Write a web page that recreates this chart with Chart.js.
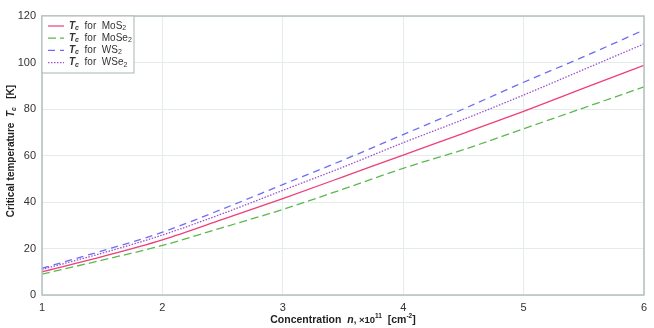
<!DOCTYPE html>
<html>
<head>
<meta charset="utf-8">
<script src="https://cdn.jsdelivr.net/npm/chart.js@4/dist/chart.umd.min.js"></script>
<style>
  html, body { margin: 0; padding: 0; background: #fff; }
</style>
</head>
<body>
<canvas id="tcChart" width="654" height="328"></canvas>
<script>
// concentration n, x10^11 cm^-2
const concentration = [1, 1.5, 2, 2.5, 3, 3.5, 4, 4.5, 5, 5.5, 6];
// critical temperature Tc, K
const tcMoS2  = [10.0, 16.5, 23.7, 32.5, 41.5, 50.8, 60.2, 69.5, 79.0, 89.0, 98.8];
const tcMoSe2 = [9.0, 15.0, 21.3, 29.0, 36.8, 45.5, 54.5, 62.5, 71.5, 80.5, 89.5];
const tcWS2   = [11.5, 19.0, 27.0, 37.0, 47.5, 58.0, 69.0, 80.0, 91.5, 102.5, 114.0];
const tcWSe2  = [11.0, 18.0, 25.8, 35.0, 45.0, 55.0, 65.5, 75.5, 86.0, 97.0, 108.0];
const materials = [['MoS', '2'], ['MoSe', '2'], ['WS', '2'], ['WSe', '2']];
const xTicks = [1, 2, 3, 4, 5, 6];
const yTicks = [0, 20, 40, 60, 80, 100, 120];

const FONT = '"Liberation Sans", Arial, sans-serif';
const colors = ['#ee3f78', '#5cb84e', '#6f6cf5', '#9a52d0'];
const dashes = [[], [8, 4], [7, 5], [1.5, 1.5]];

const toPoints = vals => vals.map((v, i) => ({ x: concentration[i], y: v }));

// draws a row of text pieces with own font / baseline shift
function drawRuns(ctx, runs, x, y, align) {
  let total = 0;
  runs.forEach(r => { ctx.font = r.font; total += ctx.measureText(r.text).width; });
  let cx = align === 'center' ? x - total / 2 : x;
  ctx.textAlign = 'left';
  ctx.textBaseline = 'middle';
  runs.forEach(r => {
    ctx.font = r.font;
    ctx.fillText(r.text, cx, y + (r.dy || 0));
    cx += ctx.measureText(r.text).width;
  });
}

const decorations = {
  id: 'decorations',
  afterDraw(chart) {
    const ctx = chart.ctx;
    const a = chart.chartArea;
    ctx.save();

    // plot frame
    ctx.strokeStyle = '#b5c1c1';
    ctx.lineWidth = 1.5;
    ctx.strokeRect(a.left, a.top, a.right - a.left, a.bottom - a.top);

    // legend box
    const lx = a.left, ly = a.top, lw = 92, lh = 57;
    ctx.fillStyle = '#fff';
    ctx.fillRect(lx, ly, lw, lh);
    ctx.strokeStyle = '#b5c1c1';
    ctx.lineWidth = 1.2;
    ctx.strokeRect(lx, ly, lw, lh);
    materials.forEach((m, i) => {
      const yy = ly + 10 + i * 12.2;
      ctx.strokeStyle = colors[i];
      ctx.lineWidth = 1.2;
      ctx.setLineDash(dashes[i]);
      ctx.beginPath();
      ctx.moveTo(lx + 6, yy);
      ctx.lineTo(lx + 22, yy);
      ctx.stroke();
      ctx.setLineDash([]);
      ctx.fillStyle = '#333';
      drawRuns(ctx, [
        { text: 'T', font: 'italic bold 10px ' + FONT },
        { text: 'c', font: 'italic bold 7px ' + FONT, dy: 2 },
        { text: '  for  ', font: '10px ' + FONT },
        { text: m[0], font: '10px ' + FONT },
        { text: m[1], font: '7px ' + FONT, dy: 2 }
      ], lx + 27, yy, 'left');
    });

    ctx.fillStyle = '#222';
    // x axis title
    drawRuns(ctx, [
      { text: 'Concentration  ', font: 'bold 10.5px ' + FONT },
      { text: 'n', font: 'italic bold 10.5px ' + FONT },
      { text: ', \u00d710', font: 'bold 9.5px ' + FONT },
      { text: '11', font: 'bold 6.5px ' + FONT, dy: -4 },
      { text: '  [cm', font: 'bold 10.5px ' + FONT },
      { text: '-2', font: 'bold 6.5px ' + FONT, dy: -4 },
      { text: ']', font: 'bold 10.5px ' + FONT }
    ], (a.left + a.right) / 2, 320, 'center');

    // y axis title
    ctx.translate(11, 151);
    ctx.rotate(-Math.PI / 2);
    drawRuns(ctx, [
      { text: 'Critical temperature  ', font: 'bold 10px ' + FONT },
      { text: 'T', font: 'italic bold 10px ' + FONT },
      { text: 'c', font: 'italic bold 7px ' + FONT, dy: 3 },
      { text: '   [K]', font: 'bold 10px ' + FONT }
    ], 0, 0, 'center');
    ctx.restore();
  }
};

const datasets = [tcMoS2, tcMoSe2, tcWS2, tcWSe2].map((vals, i) => ({
  label: 'Tc for ' + materials[i].join(''),
  data: toPoints(vals),
  borderColor: colors[i],
  borderWidth: 1.3,
  borderDash: dashes[i],
  pointRadius: 0,
  fill: false,
  cubicInterpolationMode: 'monotone'
}));

new Chart(document.getElementById('tcChart').getContext('2d'), {
  type: 'line',
  data: { datasets: datasets },
  options: {
    responsive: false,
    animation: false,
    layout: { padding: { left: 0, right: 10, top: 16, bottom: 0 } },
    plugins: { legend: { display: false }, tooltip: { enabled: false } },
    scales: {
      x: {
        type: 'linear',
        min: 1, max: 6,
        afterBuildTicks: s => { s.ticks = xTicks.map(v => ({ value: v })); },
        afterFit: s => { s.height = 33; },
        grid: { color: '#e3ebeb', drawTicks: false },
        border: { display: false },
        ticks: { padding: 6, color: '#333', font: { family: FONT, size: 11 } }
      },
      y: {
        min: 0, max: 120,
        afterBuildTicks: s => { s.ticks = yTicks.map(v => ({ value: v })); },
        afterFit: s => { s.width = 42; },
        grid: { color: '#e3ebeb', drawTicks: false },
        border: { display: false },
        ticks: { padding: 6, color: '#333', font: { family: FONT, size: 11 } }
      }
    }
  },
  plugins: [decorations]
});
</script>
</body>
</html>
